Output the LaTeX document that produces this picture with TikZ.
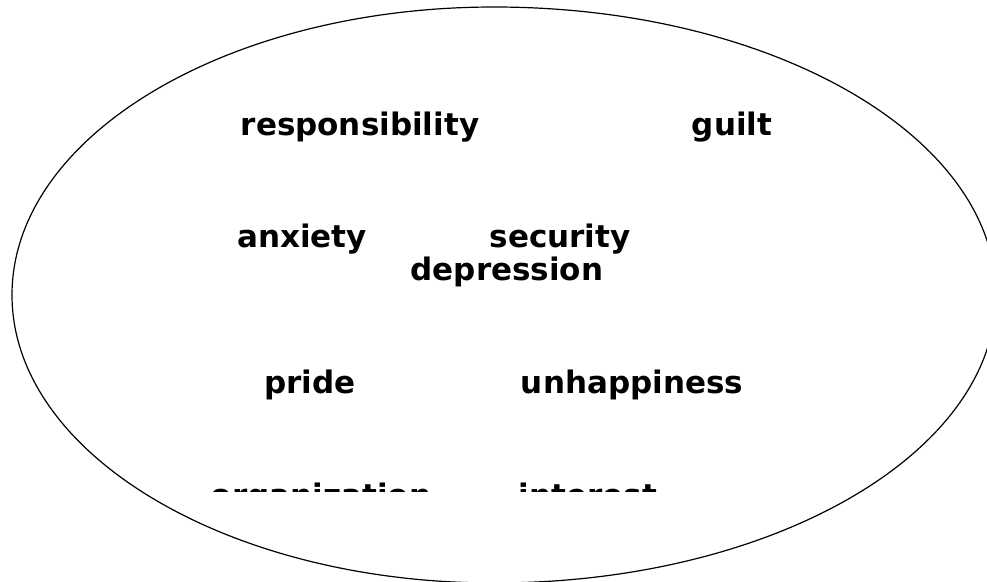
\documentclass[tikz,border=0pt]{standalone}
\usepackage{fontspec}
\setmainfont{DejaVu Sans}
\usepackage{tikz}
\usetikzlibrary{shapes.geometric, positioning}
\tikzstyle{word} = [font=\fontsize{31}{37}\selectfont\bfseries, anchor=base, inner sep=0]
\tikzstyle{rim} = [draw, line width=1.2pt]

\begin{document}
\begin{tikzpicture}[x=1pt, y=-1pt]

\clip (0,0) rectangle (987,581);
\coordinate (top) at (494,7);
% outline, right half a little wider
\path [rim] (top) arc [start angle=270, end angle=90, x radius=482, y radius=288]
                  arc [start angle=90, end angle=-90, x radius=502, y radius=288] -- cycle;

\node [word] (resp) at (360,135) {responsibility};
\node [word] (guilt) at (732,135) {guilt};
\node [word] (anx) at (302,247) {anxiety};
\node [word] (sec) at (560,247) {security};
\node [word] (dep) at (507,280) {depression};
\node [word] (pride) at (310,393) {pride};
\node [word] (unh) at (632,393) {unhappiness};

% last row is cut off
\begin{scope}
\clip (0,0) rectangle (987,491);
\node [word] (org) at (321,506) {organization};
\node [word] (int) at (588,506) {interest};
\end{scope}

\end{tikzpicture}
\end{document}
